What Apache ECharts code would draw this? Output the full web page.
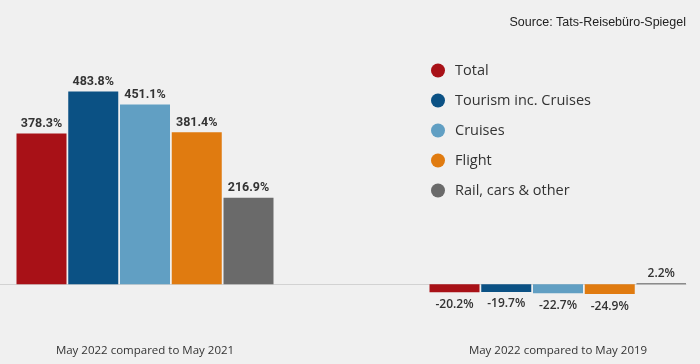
<!DOCTYPE html>
<html><head><meta charset="utf-8">
<script src="https://cdn.jsdelivr.net/npm/echarts@6/dist/echarts.min.js"></script>
<style>html,body{margin:0;padding:0;background:#f0f0f0}#c{width:700px;height:364px}</style>
</head><body><div id="c"></div>
<script>
const seriesNames = ['Total', 'Tourism inc. Cruises', 'Cruises', 'Flight', 'Rail, cars & other'];
const colors = ['#a81117', '#0b5184', '#619fc3', '#e07b10', '#6a6a6a'];
const cat2021 = ['May 2022 compared to May 2021'];
const cat2019 = ['', 'May 2022 compared to May 2019'];
const vs2021 = [378.3, 483.8, 451.1, 381.4, 216.9];
const vs2019 = [-20.2, -19.7, -22.7, -24.9, 2.2];
const sourceText = 'Source: Tats-Reisebüro-Spiegel';

const chart = echarts.init(document.getElementById('c'));
const fmt = p => p.value.toFixed(1) + '%';
const series = [];
seriesNames.forEach((n, i) => {
  series.push({
    name: n, type: 'bar', xAxisIndex: 0, yAxisIndex: 0,
    barWidth: 50, barGap: '3.5%',
    itemStyle: { color: colors[i] },
    label: { show: true, position: 'top', distance: 3, formatter: fmt,
      fontFamily: 'Roboto', fontWeight: 'bold', fontSize: 12.5, color: '#333' },
    data: [vs2021[i]]
  });
});
seriesNames.forEach((n, i) => {
  const v = vs2019[i];
  series.push({
    name: n, type: 'bar', xAxisIndex: 1, yAxisIndex: 1,
    barWidth: 50, barGap: '3.5%',
    itemStyle: { color: colors[i] },
    label: { show: true, position: v < 0 ? 'bottom' : 'top', distance: v < 0 ? 6 : 4,
      formatter: p => p.value.toFixed(1) + '%',
      fontFamily: 'Open Sans', fontWeight: 600, fontSize: 12, color: '#333' },
    data: ['-', v]
  });
});
const yAx = { type: 'value', min: -100, max: 500, show: false, splitLine: { show: false } };
const xCommon = {
  type: 'category',
  axisTick: { show: false },
  axisLine: { onZero: true, lineStyle: { color: '#d2d2d2', width: 1 } },
  axisLabel: { margin: 21, fontFamily: 'Open Sans', fontSize: 11.5, color: '#333' }
};
chart.setOption({
  backgroundColor: '#f0f0f0',
  animation: false,
  title: { text: sourceText, right: 9, top: 11,
    textStyle: { fontFamily: 'Liberation Sans', fontSize: 12.5, fontWeight: 'normal', color: '#222' } },
  legend: {
    orient: 'vertical', left: 426, top: 58, itemGap: 15,
    icon: 'circle', itemWidth: 24, itemHeight: 14,
    textStyle: { fontFamily: 'Open Sans', fontSize: 14.5, color: '#333', height: 16 },
    data: seriesNames
  },
  grid: [
    { left: 0, width: 290, top: 85, bottom: 40, containLabel: false, outerBoundsMode: 'none' },
    { left: 174, width: 512, top: 85, bottom: 40, containLabel: false, outerBoundsMode: 'none' }
  ],
  xAxis: [
    Object.assign({}, xCommon, { gridIndex: 0, data: cat2021 }),
    Object.assign({}, xCommon, { gridIndex: 1, data: cat2019 })
  ],
  yAxis: [Object.assign({ gridIndex: 0 }, yAx), Object.assign({ gridIndex: 1 }, yAx)],
  series: series
});
</script></body></html>
